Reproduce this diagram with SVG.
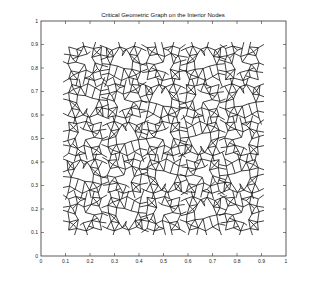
<svg xmlns="http://www.w3.org/2000/svg" xmlns:xlink="http://www.w3.org/1999/xlink" width="316" height="289" viewBox="0 0 316 289">
<style>
.ax{fill:none;stroke:#333;stroke-width:0.8}
.tk{stroke:#333;stroke-width:0.6}
.lbl{font-family:"Liberation Sans",Arial,sans-serif;font-size:5px;fill:#222}
.ttl{font-family:"Liberation Sans",Arial,sans-serif;font-size:6px;fill:#111}
.g{fill:none;stroke:#111;stroke-width:1;stroke-linejoin:round}
</style>
<defs>
<clipPath id="clip"><rect x="63" y="42" width="201" height="193"/></clipPath>
<path id="tA" class="g" d="M4 3L14 6L23 2L35 5L45 3L44 13L33 16L35 5M6 13L16 15L27 12L23 2M4 3L6 13L3 24L7 33L4 43L15 44M14 6L16 15L13 22L3 24M14 6L20 8L23 2M20 8L16 15M6 13L9 18L13 22M9 18L16 15M44 13L46 26L43 33L45 42L36 45L24 42L26 32L17 35L7 33M17 35L15 44M33 16L37 23L46 26M37 23L34 36L36 45M26 32L34 36L43 33M37 23L40 30L43 33M40 30L34 36M24 42L30 40L34 36M30 40L36 45M13 22L24 25L26 32M24 25L17 35M44 13L54 15M43 33L55 31M15 44L13 52M36 45L38 52M27 12L31 9M35 5L39 10L45 3M39 10L44 13M39 10L33 16M7 33L10 38L17 35M10 38L4 43M10 38L15 44M3 24L-4 21M4 43L-3 47M46 26L53 28M45 42L52 47M23 2L21 -5M35 5L38 -4M24 42L22 50M6 13L-2 12"/>
<path id="tB" class="g" d="M3 5L12 2L22 6L30 3L40 7L47 4M3 5L8 14L18 12L22 6M12 2L8 14M12 2L18 12M30 3L38 15L40 7M38 15L46 16L47 4M38 15L42 25L46 16M8 14L5 24L14 21L18 12M5 24L4 34L15 31L14 21M4 34L8 44L19 41L15 31M15 31L25 30L33 27L42 25M25 30L19 41M33 27L37 40L44 36L42 25M44 36L46 45L37 40L28 45L19 41M28 45L25 30M47 4L55 1M44 36L53 38M8 44L6 52M46 45L49 53M22 6L27 14M3 5L-3 8M22 6L26 9L30 3M26 9L27 14M8 14L12 18L14 21M12 18L5 24M12 18L18 12M4 34L10 38L15 31M10 38L8 44M10 38L19 41M40 7L43 11L47 4M43 11L38 15M43 11L46 16M5 24L-3 26M4 34L-4 31M46 16L54 19M42 25L52 24M28 45L30 52M19 41L17 51M30 3L32 -4M12 2L10 -5"/>
</defs>
<rect width="316" height="289" fill="#fff"/>
<text class="ttl" x="163" y="17" text-anchor="middle">Critical Geometric Graph on the Interior Nodes</text>
<rect class="ax" x="41" y="21" width="245" height="235"/>
<g class="tk">
<path d="M65.5 256v-3M90 256v-3M114.5 256v-3M139 256v-3M163.5 256v-3M188 256v-3M212.5 256v-3M237 256v-3M261.5 256v-3M65.5 21v3M90 21v3M114.5 21v3M139 21v3M163.5 21v3M188 21v3M212.5 21v3M237 21v3M261.5 21v3"/>
<path d="M41 232.5h3M41 209h3M41 185.5h3M41 162h3M41 138.5h3M41 115h3M41 91.5h3M41 68h3M41 44.5h3M286 232.5h-3M286 209h-3M286 185.5h-3M286 162h-3M286 138.5h-3M286 115h-3M286 91.5h-3M286 68h-3M286 44.5h-3"/>
</g>
<g class="lbl" text-anchor="middle">
<text x="41" y="263">0</text><text x="65.5" y="263">0.1</text><text x="90" y="263">0.2</text><text x="114.5" y="263">0.3</text><text x="139" y="263">0.4</text><text x="163.5" y="263">0.5</text><text x="188" y="263">0.6</text><text x="212.5" y="263">0.7</text><text x="237" y="263">0.8</text><text x="261.5" y="263">0.9</text><text x="286" y="263">1</text>
</g>
<g class="lbl" text-anchor="end">
<text x="38" y="257.5">0</text><text x="38" y="234">0.1</text><text x="38" y="210.5">0.2</text><text x="38" y="187">0.3</text><text x="38" y="163.5">0.4</text><text x="38" y="140">0.5</text><text x="38" y="116.5">0.6</text><text x="38" y="93">0.7</text><text x="38" y="69.5">0.8</text><text x="38" y="46">0.9</text><text x="38" y="22.5">1</text>
</g>
<g id="graph" clip-path="url(#clip)">
<use xlink:href="#tA" transform="translate(65.5,44.5) scale(0.8,0.8)"/>
<use xlink:href="#tB" transform="translate(143.9,44.5) scale(-0.8,0.8)"/>
<use xlink:href="#tA" transform="translate(143.9,82.1) scale(0.8,-0.8)"/>
<use xlink:href="#tB" transform="translate(183.1,44.5) scale(0.8,0.8)"/>
<use xlink:href="#tA" transform="translate(261.5,82.1) scale(-0.8,-0.8)"/>
<use xlink:href="#tB" transform="translate(65.5,119.7) scale(0.8,-0.8)"/>
<use xlink:href="#tA" transform="translate(143.9,119.7) scale(-0.8,-0.8)"/>
<use xlink:href="#tB" transform="translate(183.1,82.1) scale(-0.8,0.8)"/>
<use xlink:href="#tA" transform="translate(222.3,82.1) scale(-0.8,0.8)"/>
<use xlink:href="#tB" transform="translate(222.3,82.1) scale(0.8,0.8)"/>
<use xlink:href="#tA" transform="translate(104.7,119.7) scale(-0.8,0.8)"/>
<use xlink:href="#tB" transform="translate(104.7,119.7) scale(0.8,0.8)"/>
<use xlink:href="#tA" transform="translate(143.9,119.7) scale(0.8,0.8)"/>
<use xlink:href="#tB" transform="translate(222.3,157.3) scale(-0.8,-0.8)"/>
<use xlink:href="#tA" transform="translate(222.3,157.3) scale(0.8,-0.8)"/>
<use xlink:href="#tB" transform="translate(104.7,157.3) scale(-0.8,0.8)"/>
<use xlink:href="#tA" transform="translate(104.7,194.9) scale(0.8,-0.8)"/>
<use xlink:href="#tB" transform="translate(143.9,194.9) scale(0.8,-0.8)"/>
<use xlink:href="#tA" transform="translate(183.1,157.3) scale(0.8,0.8)"/>
<use xlink:href="#tB" transform="translate(261.5,194.9) scale(-0.8,-0.8)"/>
<use xlink:href="#tA" transform="translate(104.7,232.5) scale(-0.8,-0.8)"/>
<use xlink:href="#tB" transform="translate(104.7,232.5) scale(0.8,-0.8)"/>
<use xlink:href="#tA" transform="translate(183.1,194.9) scale(-0.8,0.8)"/>
<use xlink:href="#tB" transform="translate(183.1,194.9) scale(0.8,0.8)"/>
<use xlink:href="#tA" transform="translate(222.3,232.5) scale(0.8,-0.8)"/>
</g>
</svg>
